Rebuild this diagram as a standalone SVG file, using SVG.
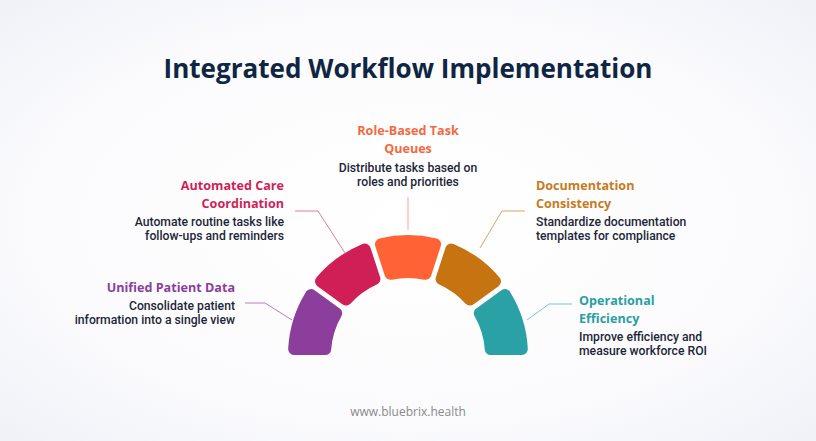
<svg xmlns="http://www.w3.org/2000/svg" width="816" height="441" viewBox="0 0 816 441">
<defs>
<radialGradient id="bg" cx="50%" cy="50%" r="75%">
<stop offset="0" stop-color="#ffffff"/>
<stop offset="0.6" stop-color="#fbfbfd"/>
<stop offset="1" stop-color="#eef0f7"/>
</radialGradient>
<style>
.title{font-family:"Open Sans","Liberation Sans",sans-serif;font-weight:700;font-size:26px;fill:#0f2642;text-anchor:middle}
.h{font-family:"Open Sans","Liberation Sans",sans-serif;font-weight:700;font-size:12.6px}
.d{font-family:Roboto,"Liberation Sans",sans-serif;font-weight:500;font-size:12.2px;fill:#1c2638}
.seg{stroke-width:12;stroke-linejoin:round}
.con{fill:none;stroke-width:1}
.foot{font-family:"Open Sans","Liberation Sans",sans-serif;font-size:12px;fill:#8a8a8a;text-anchor:middle}
</style>
</defs>
<rect width="816" height="441" fill="url(#bg)"/>
<text class="title" x="408" y="78" textLength="489" lengthAdjust="spacingAndGlyphs">Integrated Workflow Implementation</text>

<g id="connectors">
<polyline class="con" points="245,303 265,303 292,320" stroke="#b77fc2"/>
<polyline class="con" points="295,211 318,211 345,253" stroke="#e27d9b"/>
<polyline class="con" points="408,197 408,230" stroke="#f7a58c"/>
<polyline class="con" points="525,211 502,211 480,248" stroke="#d9a266"/>
<polyline class="con" points="572,304 549,304 527,320" stroke="#7cc3c5"/>
</g>

<g id="unified-patient-data">
<path class="seg" fill="#8c3e9c" stroke="#8c3e9c" d="M336.21,313.35 L311.03,295.06 A114,114 0 0 0 294.16,349 L325.22,349 A83,83 0 0 1 336.21,313.35 Z"/>
<text class="h" x="235" y="292" text-anchor="end" fill="#8c3e9c">Unified Patient Data</text>
<text class="d" x="235" y="310" text-anchor="end">Consolidate patient</text>
<text class="d" x="235" y="324" text-anchor="end">information into a single view</text>
</g>

<g id="automated-care-coordination">
<path class="seg" fill="#d01f57" stroke="#d01f57" d="M374.40,279.10 L364.79,249.51 A114,114 0 0 0 321.02,281.30 L346.20,299.59 A83,83 0 0 1 374.40,279.10 Z"/>
<text class="h" x="284" y="190" text-anchor="end" fill="#d01f57">Automated Care</text>
<text class="h" x="284" y="208" text-anchor="end" fill="#d01f57">Coordination</text>
<text class="d" x="284" y="226" text-anchor="end">Automate routine tasks like</text>
<text class="d" x="284" y="240" text-anchor="end">follow-ups and reminders</text>
</g>

<g id="role-based-task-queues">
<path class="seg" fill="#ff6234" stroke="#ff6234" d="M425.43,273.85 L435.05,244.25 A114,114 0 0 0 380.95,244.25 L390.57,273.85 A83,83 0 0 1 425.43,273.85 Z"/>
<text class="h" x="408" y="135" text-anchor="middle" fill="#f26a3f">Role-Based Task</text>
<text class="h" x="408" y="153" text-anchor="middle" fill="#f26a3f">Queues</text>
<text class="d" x="408" y="172" text-anchor="middle">Distribute tasks based on</text>
<text class="d" x="408" y="186" text-anchor="middle">roles and priorities</text>
</g>

<g id="documentation-consistency">
<path class="seg" fill="#c67411" stroke="#c67411" d="M469.80,299.59 L494.98,281.30 A114,114 0 0 0 451.21,249.51 L441.60,279.10 A83,83 0 0 1 469.80,299.59 Z"/>
<text class="h" x="536" y="190" fill="#c87a1e">Documentation</text>
<text class="h" x="536" y="208" fill="#c87a1e">Consistency</text>
<text class="d" x="536" y="226">Standardize documentation</text>
<text class="d" x="536" y="240">templates for compliance</text>
</g>

<g id="operational-efficiency">
<path class="seg" fill="#2aa1a4" stroke="#2aa1a4" d="M490.78,349 L521.84,349 A114,114 0 0 0 504.97,295.06 L479.79,313.35 A83,83 0 0 1 490.78,349 Z"/>
<text class="h" x="579" y="305" fill="#2a9fa3">Operational</text>
<text class="h" x="579" y="323" fill="#2a9fa3">Efficiency</text>
<text class="d" x="579" y="341">Improve efficiency and</text>
<text class="d" x="579" y="355">measure workforce ROI</text>
</g>

<text class="foot" x="408" y="416">www.bluebrix.health</text>
</svg>
